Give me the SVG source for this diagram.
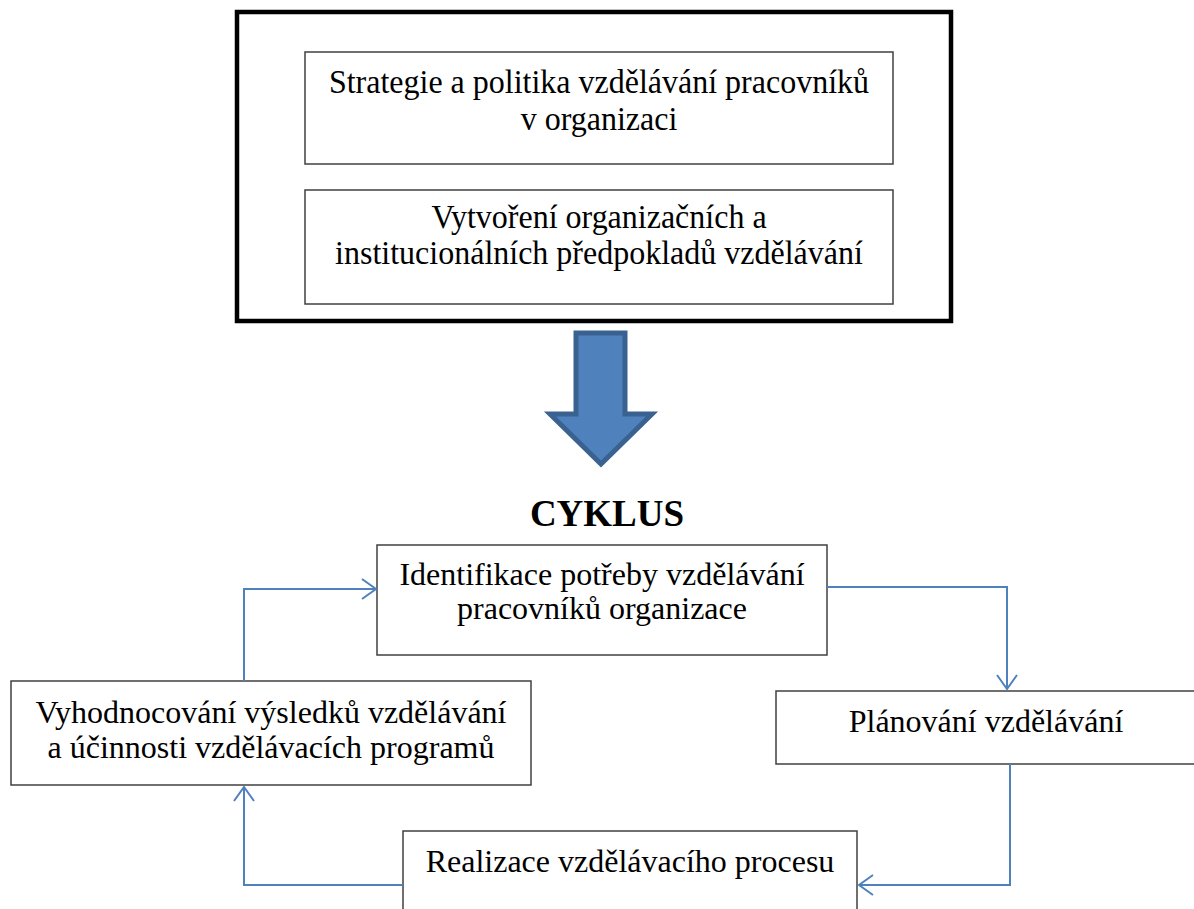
<svg xmlns="http://www.w3.org/2000/svg" width="1194" height="909" viewBox="0 0 1194 909">
  <style>
    .box { fill: #ffffff; stroke: #404040; stroke-width: 1.5; }
    .frame { fill: #ffffff; stroke: #000000; stroke-width: 4.5; }
    .lbl { font-family: "Liberation Serif", "Times New Roman", serif; font-size: 32px; fill: #000000; text-anchor: middle; }
    .title { font-family: "Liberation Serif", "Times New Roman", serif; font-size: 37px; font-weight: bold; fill: #000000; text-anchor: middle; }
    .link { fill: none; stroke: #4F81BD; stroke-width: 2; }
  </style>
  <defs>
    <marker id="open" viewBox="0 0 16 22" refX="15" refY="11" markerWidth="16" markerHeight="22" markerUnits="userSpaceOnUse" orient="auto">
      <path d="M1,1 L15,11 L1,21" fill="none" stroke="#4F81BD" stroke-width="2"/>
    </marker>
  </defs>

  <rect width="1194" height="909" fill="#ffffff"/>

  <!-- framed policy block -->
  <g id="policy-frame">
    <rect class="frame" x="237" y="12" width="714" height="309"/>
  </g>
  <g id="strategy">
    <rect class="box" x="305" y="52" width="588" height="112"/>
    <text class="lbl" x="599" y="93" transform="matrix(1 0 0 1.08 0 -7.44)">Strategie a politika vzdělávání pracovníků</text>
    <text class="lbl" x="599" y="130" transform="matrix(1 0 0 1.08 0 -10.4)">v organizaci</text>
  </g>
  <g id="preconditions">
    <rect class="box" x="305" y="190" width="588" height="114"/>
    <text class="lbl" x="599" y="228" transform="matrix(1 0 0 1.08 0 -18.24)">Vytvoření organizačních a</text>
    <text class="lbl" x="599" y="264" transform="matrix(1 0 0 1.08 0 -21.12)">institucionálních předpokladů vzdělávání</text>
  </g>

  <!-- big block arrow -->
  <g id="block-arrow">
    <path d="M576,333 L625,333 L625,414 L652,414 L601,464 L550,414 L576,414 Z" fill="#4F81BD" stroke="#3A6291" stroke-width="5" stroke-linejoin="miter"/>
  </g>

  <g id="cycle-title">
    <text class="title" x="607" y="526">CYKLUS</text>
  </g>

  <!-- cycle steps -->
  <g id="identification">
    <rect class="box" x="377" y="545" width="450" height="110"/>
    <text class="lbl" x="602" y="585">Identifikace potřeby vzdělávání</text>
    <text class="lbl" x="602" y="619">pracovníků organizace</text>
  </g>
  <g id="planning">
    <rect class="box" x="776" y="691" width="422" height="73"/>
    <text class="lbl" x="986" y="732">Plánování vzdělávání</text>
  </g>
  <g id="realization">
    <rect class="box" x="403" y="831" width="454" height="90"/>
    <text class="lbl" x="630" y="872">Realizace vzdělávacího procesu</text>
  </g>
  <g id="evaluation">
    <rect class="box" x="11" y="681" width="520" height="104"/>
    <text class="lbl" x="271" y="723">Vyhodnocování výsledků vzdělávání</text>
    <text class="lbl" x="271" y="758">a účinnosti vzdělávacích programů</text>
  </g>

  <!-- cycle connectors -->
  <g id="connectors">
    <path class="link" d="M827,587 L1007,587 L1007,689" marker-end="url(#open)"/>
    <path class="link" d="M1010,764 L1010,885 L859,885" marker-end="url(#open)"/>
    <path class="link" d="M403,885 L244,885 L244,787" marker-end="url(#open)"/>
    <path class="link" d="M244,681 L244,589 L376,589" marker-end="url(#open)"/>
  </g>
</svg>
